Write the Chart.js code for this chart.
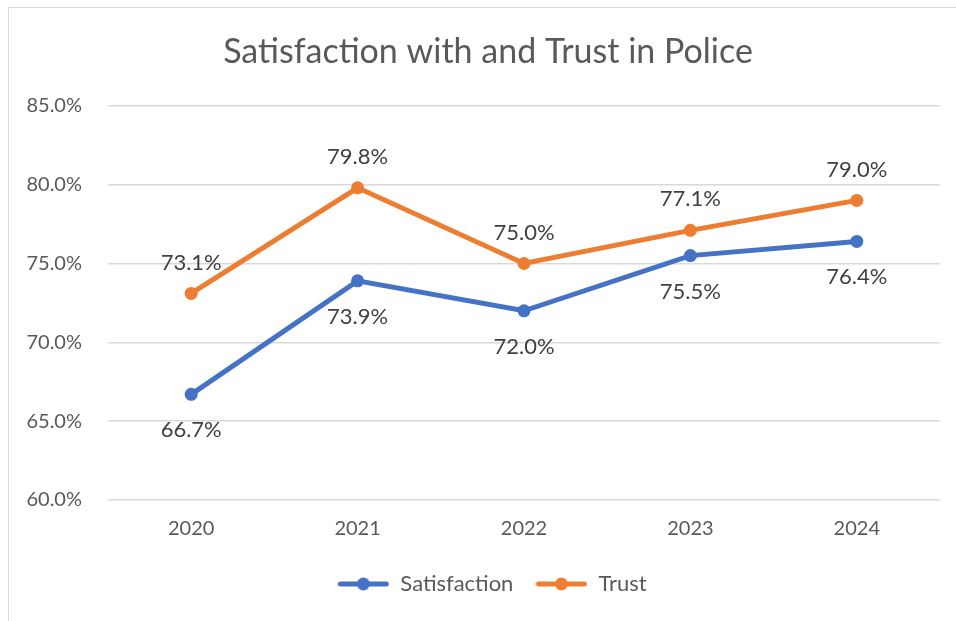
<!DOCTYPE html>
<html>
<head>
<meta charset="utf-8">
<script src="https://cdn.jsdelivr.net/npm/chart.js@4/dist/chart.umd.min.js"></script>
<style>
  html, body { margin: 0; padding: 0; background: #ffffff; overflow: hidden; }
  #wrap { width: 956px; height: 621px; position: relative; }
</style>
</head>
<body>
<div id="wrap"><canvas id="chart" width="956" height="621"></canvas></div>
<script>
// Survey years and percentages
const years = ['2020', '2021', '2022', '2023', '2024'];
const satisfaction = [66.7, 73.9, 72.0, 75.5, 76.4];
const trust = [73.1, 79.8, 75.0, 77.1, 79.0];
const yTicks = [60, 65, 70, 75, 80, 85];

const BLUE = '#4472C4';
const ORANGE = '#ED7D31';
const TEXT = '#595959';
const LABEL = '#404040';
const GRID = '#D9D9D9';
const FONT = 'Lato, "Liberation Sans", sans-serif';

// Legend marker: a short line with a dot in the middle
function lineMarker(color) {
  const c = document.createElement('canvas');
  c.width = 52; c.height = 14;
  const g = c.getContext('2d');
  g.strokeStyle = color; g.lineWidth = 5; g.lineCap = 'round';
  g.beginPath(); g.moveTo(3, 7); g.lineTo(49, 7); g.stroke();
  g.fillStyle = color;
  g.beginPath(); g.arc(26, 7, 6.5, 0, Math.PI * 2); g.fill();
  return c;
}

// Frame and white background
const framePlugin = {
  id: 'frame',
  beforeDraw(chart) {
    const ctx = chart.ctx;
    ctx.save();
    ctx.fillStyle = '#ffffff';
    ctx.fillRect(0, 0, chart.width, chart.height);
    ctx.strokeStyle = GRID;
    ctx.lineWidth = 1;
    ctx.strokeRect(8.5, 7.5, 1200, 1200);
    ctx.restore();
  }
};

// Center the title and legend on the framed card rather than the padded canvas
const centerBlocks = {
  id: 'centerBlocks',
  afterLayout(chart) {
    const shift = (box, dx) => { if (box) { box.left += dx; box.right += dx; } };
    shift(chart.titleBlock, 8);
    shift(chart.legend, 12);
  }
};

// Value labels above (Trust) or below (Satisfaction) each point
const valueLabels = {
  id: 'valueLabels',
  afterDatasetsDraw(chart) {
    const ctx = chart.ctx;
    ctx.save();
    ctx.font = '22px ' + FONT;
    ctx.fillStyle = LABEL;
    ctx.textAlign = 'center';
    ctx.textBaseline = 'middle';
    chart.data.datasets.forEach((ds, i) => {
      const meta = chart.getDatasetMeta(i);
      const off = ds.labelOffset;
      meta.data.forEach((pt, j) => {
        ctx.fillText(ds.data[j].toFixed(1) + '%', pt.x, pt.y + off);
      });
    });
    ctx.restore();
  }
};

new Chart(document.getElementById('chart'), {
  type: 'line',
  data: {
    labels: years,
    datasets: [
      {
        label: 'Satisfaction',
        data: satisfaction,
        borderColor: BLUE,
        backgroundColor: BLUE,
        borderWidth: 5,
        pointRadius: 6.5,
        pointBorderWidth: 0,
        pointBackgroundColor: BLUE,
        tension: 0,
        labelOffset: 36,
        marker: lineMarker(BLUE)
      },
      {
        label: 'Trust',
        data: trust,
        borderColor: ORANGE,
        backgroundColor: ORANGE,
        borderWidth: 5,
        pointRadius: 6.5,
        pointBorderWidth: 0,
        pointBackgroundColor: ORANGE,
        tension: 0,
        labelOffset: -31,
        marker: lineMarker(ORANGE)
      }
    ]
  },
  options: {
    responsive: false,
    animation: false,
    events: [],
    layout: { padding: { left: 20, right: 16, top: 0, bottom: 16 } },
    scales: {
      x: {
        offset: true,
        grid: { display: false, drawTicks: false },
        border: { display: false },
        ticks: { color: TEXT, font: { family: FONT, size: 20 }, padding: 17, maxRotation: 0 },
        afterFit(scale) { scale.height = 51; }
      },
      y: {
        min: 60,
        max: 85,
        afterBuildTicks(scale) { scale.ticks = yTicks.map(v => ({ value: v })); },
        grid: { color: GRID, lineWidth: 1.5, drawTicks: false },
        border: { display: false },
        ticks: {
          color: TEXT,
          font: { family: FONT, size: 20 },
          padding: 26,
          callback: v => v.toFixed(1) + '%'
        },
        afterFit(scale) { scale.width = 88; }
      }
    },
    plugins: {
      title: {
        display: true,
        text: 'Satisfaction with and Trust in Police',
        color: TEXT,
        font: { family: FONT, size: 34, weight: '400' },
        padding: { top: 32, bottom: 33 }
      },
      legend: {
        position: 'bottom',
        labels: {
          color: TEXT,
          font: { family: FONT, size: 22 },
          usePointStyle: true,
          pointStyleWidth: 52,
          padding: 22,
          generateLabels(chart) {
            return chart.data.datasets.map((ds, i) => ({
              text: ds.label,
              fillStyle: ds.borderColor,
              strokeStyle: ds.borderColor,
              lineWidth: 0,
              pointStyle: ds.marker,
              fontColor: TEXT,
              hidden: false,
              datasetIndex: i
            }));
          }
        }
      },
      tooltip: { enabled: false }
    }
  },
  plugins: [framePlugin, centerBlocks, valueLabels]
});
</script>
</body>
</html>
